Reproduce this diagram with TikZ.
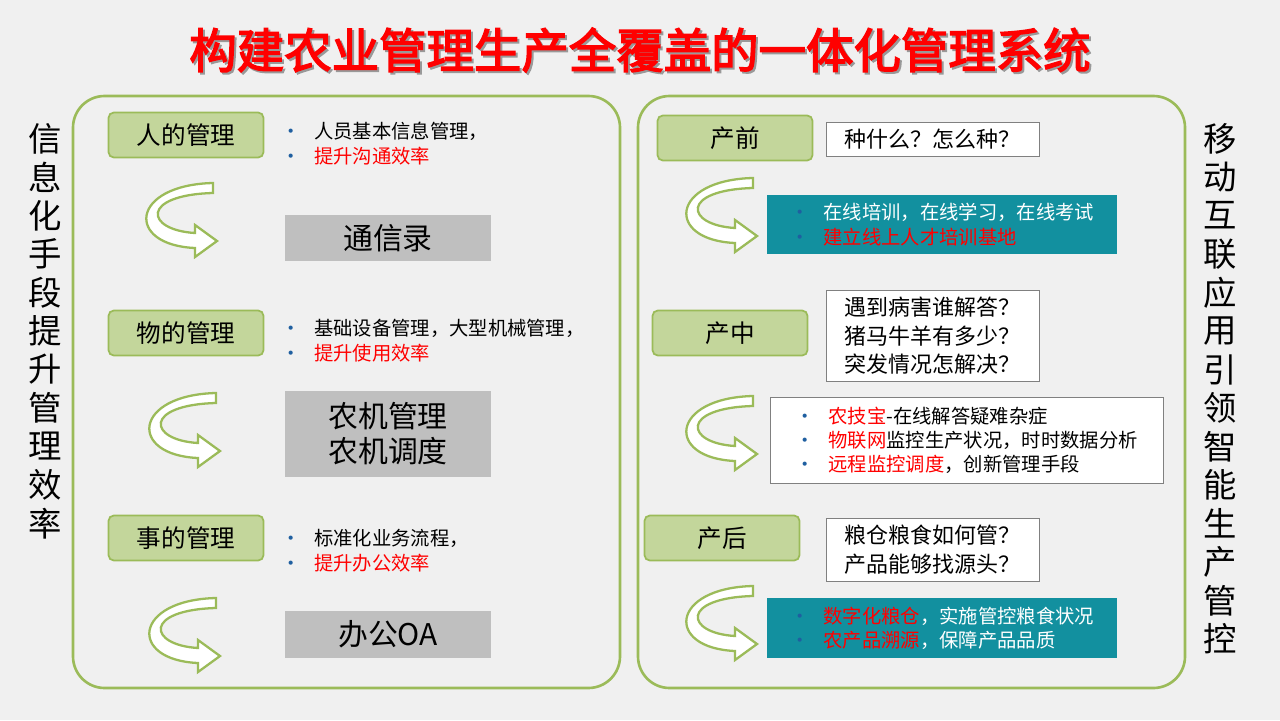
\documentclass[tikz,border=0pt]{standalone}
\usepackage{fontspec}
\setmainfont{Noto Sans CJK SC}[AutoFakeBold=3]
\usetikzlibrary{positioning}
\definecolor{frame}{HTML}{9BBB59}
\definecolor{leaf}{HTML}{C3D69B}
\definecolor{teal}{HTML}{12909F}
\definecolor{bul}{HTML}{1F5FA0}
\tikzset{
  tag/.style={draw=frame,fill=leaf,rounded corners=3pt,line width=1pt,minimum width=3.1cm,minimum height=0.9cm,font=\fontsize{14}{16}\selectfont},
  graybox/.style={fill=black!25,minimum width=4.14cm,font=\fontsize{17}{20}\selectfont},
  askbox/.style={draw=black!50,fill=white,align=left,inner sep=4pt,font=\fontsize{12.5}{16}\selectfont},
  blue box/.style={fill=teal,align=left,text=white,font=\fontsize{11}{14}\selectfont},
  turn/.pic={\draw[frame,line width=1.3pt,fill=white]
    (68,8) .. controls (-5,10) and (0,45) .. (50,48) -- (50,40) -- (72,56) -- (50,72) -- (50,63)
    .. controls (-20,60) and (-15,0) .. (68,-2) -- cycle;}
}
\newcommand{\bl}{{\color{bul}\textbullet}\hspace{0.7em}}
\begin{document}
\begin{tikzpicture}[x=0.02cm,y=-0.02cm]
\fill[black!6] (0,0) rectangle (1280,720);
% title
\node[text=black!40,font=\fontsize{27}{30}\selectfont\bfseries] at (642,52) {构建农业管理生产全覆盖的一体化管理系统};
\node (title) [text=red,font=\fontsize{27}{30}\selectfont\bfseries] at (640,50) {构建农业管理生产全覆盖的一体化管理系统};
% frames
\draw[frame,line width=1.5pt,rounded corners=18pt] (73,96) rectangle (620,688);
\draw[frame,line width=1.5pt,rounded corners=18pt] (638,96) rectangle (1185,688);
\foreach \c [count=\i] in {信,息,化,手,段,提,升,管,理,效,率}
  \node[font=\fontsize{19}{20}\selectfont] at (45,100+\i*38.5) {\c};
\foreach \c [count=\i] in {移,动,互,联,应,用,引,领,智,能,生,产,管,控}
  \node[font=\fontsize{19}{20}\selectfont] at (1220,100+\i*38.5) {\c};
% left side
\node (people) [tag] at (186,135) {人的管理};
\node (things) [tag] at (186,333) {物的管理};
\node (affairs) [tag] at (186,538) {事的管理};
\node (ptext) [anchor=north west,align=left,font=\fontsize{11}{14}\selectfont] at (275,116) {\bl 人员基本信息管理，\\ \bl \color{red}提升沟通效率};
\node (ttext) [anchor=north west,align=left,font=\fontsize{11}{14}\selectfont] at (275,313) {\bl 基础设备管理，大型机械管理，\\ \bl \color{red}提升使用效率};
\node (atext) [anchor=north west,align=left,font=\fontsize{11}{14}\selectfont] at (275,523) {\bl 标准化业务流程，\\ \bl \color{red}提升办公效率};
\node (contacts) [graybox,minimum height=0.94cm] at (388,238) {通信录};
\node (machines) [graybox,minimum height=1.72cm,align=center] at (388,434) {农机管理\\农机调度};
\node (office) [graybox,minimum height=0.94cm] at (388,634) {办公OA};
\pic at (145,185) {turn};
\pic at (148,395) {turn};
\pic at (148,600) {turn};
% right side
\node (pre) [tag] at (735,138) {产前};
\node (mid) [tag] at (730,333) {产中};
\node (post) [tag] at (722,538) {产后};
\node (q1) [askbox,minimum width=4.26cm,anchor=north west] at (826,122) {种什么？怎么种？};
\node (q2) [askbox,minimum width=4.26cm,anchor=north west] at (826,290) {遇到病害谁解答？\\猪马牛羊有多少？\\突发情况怎解决？};
\node (q3) [askbox,minimum width=4.26cm,anchor=north west] at (826,518) {粮仓粮食如何管？\\产品能够找源头？};
\node (train) [blue box,minimum width=7cm,minimum height=1.18cm,anchor=north west] at (767,195) {\bl 在线培训，在线学习，在线考试\\ \bl \color{red}建立线上人才培训基地};
\node (tech) [askbox,minimum width=7.86cm,minimum height=1.72cm,anchor=north west,font=\fontsize{11}{13.5}\selectfont] at (770,397) {\bl {\color{red}农技宝}-在线解答疑难杂症\\ \bl {\color{red}物联网}监控生产状况，时时数据分析\\ \bl {\color{red}远程监控调度}，创新管理手段};
\node (grain) [blue box,minimum width=7cm,minimum height=1.2cm,anchor=north west] at (767,598) {\bl {\color{red}数字化粮仓}，实施管控粮食状况\\ \bl {\color{red}农产品溯源}，保障产品品质};
\pic at (685,180) {turn};
\pic at (685,398) {turn};
\pic at (685,588) {turn};
\end{tikzpicture}
\end{document}
